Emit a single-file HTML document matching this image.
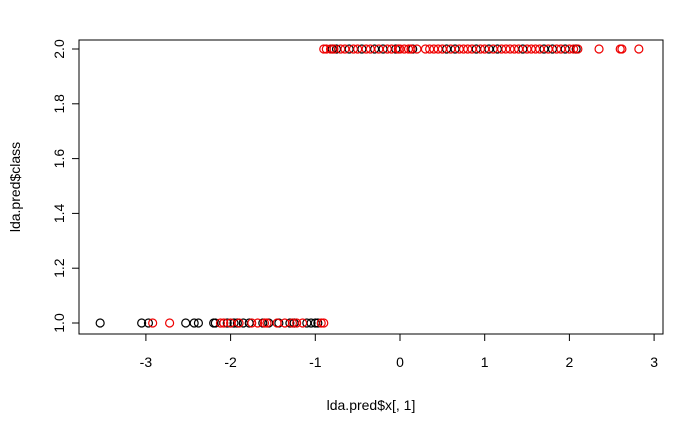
<!DOCTYPE html>
<html><head><meta charset="utf-8"><style>body{margin:0;background:#fff}svg{display:block}text{font-family:"Liberation Sans",sans-serif;font-size:14px}</style></head>
<body>
<svg id="chart" width="700" height="432"></svg>
<script>
const blackLow=[-3.54,-3.05,-2.97,-2.53,-2.43,-2.38,-2.2,-2.18,-2.04,-1.96,-1.92,-1.85,-1.78,-1.62,-1.55,-1.43,-1.3,-1.25,-1.1,-1.05,-1.0,-0.97];
const redLow=[-2.92,-2.72,-2.12,-2.08,-2.0,-1.9,-1.75,-1.68,-1.6,-1.57,-1.45,-1.36,-1.27,-1.22,-1.15,-0.93,-0.9];
const blackHigh=[-0.8,-0.75,-0.6,-0.45,-0.3,-0.2,-0.05,0.15,0.55,0.65,0.9,1.05,1.15,1.45,1.7,1.8,1.95,2.08];
const redHigh=[-0.9,-0.87,-0.82,-0.78,-0.7,-0.65,-0.55,-0.5,-0.4,-0.35,-0.25,-0.15,-0.1,-0.02,0.0,0.05,0.1,0.13,0.2,0.3,0.35,0.4,0.45,0.5,0.6,0.7,0.75,0.8,0.85,0.95,1.0,1.1,1.2,1.25,1.3,1.35,1.4,1.5,1.55,1.6,1.65,1.75,1.85,1.9,2.0,2.05,2.1,2.35,2.6,2.62,2.82];
const xTicks=[-3,-2,-1,0,1,2,3];
const yTicks=[1.0,1.2,1.4,1.6,1.8,2.0];
const NS="http://www.w3.org/2000/svg",svg=document.getElementById('chart');
const X=v=>400+v*84.7, Y=v=>323-(v-1)*274;
function mk(t,a,p){const e=document.createElementNS(NS,t);for(const k in a)e.setAttribute(k,a[k]);(p||svg).appendChild(e);return e;}
const box=mk('rect',{x:79,y:40,width:584,height:294,fill:'none',stroke:'#000'});


mk('line',{x1:X(-3),x2:X(3),y1:334,y2:334,stroke:'#000'});
xTicks.forEach(t=>{mk('line',{x1:X(t),x2:X(t),y1:334,y2:341,stroke:'#000'});
const tx=mk('text',{x:X(t),y:367,'text-anchor':'middle'});tx.textContent=t;

});
mk('line',{x1:79,x2:79,y1:Y(1),y2:Y(2),stroke:'#000'});
yTicks.forEach(t=>{mk('line',{x1:72,x2:79,y1:Y(t),y2:Y(t),stroke:'#000'});
const tx=mk('text',{x:64,y:Y(t),'text-anchor':'middle',transform:`rotate(-90 64 ${Y(t)})`});tx.textContent=t.toFixed(1);

});
const xt=mk('text',{x:371,y:410,'text-anchor':'middle'});xt.textContent='lda.pred$x[, 1]';


const yt=mk('text',{x:20,y:187,'text-anchor':'middle',transform:'rotate(-90 20 187)'});yt.textContent='lda.pred$class';


function pts(arr,yv,col){arr.forEach(v=>{const c=mk('circle',{cx:X(v),cy:Y(yv),r:4,fill:'none',stroke:col,'stroke-width':1.2});

});}
pts(blackLow,1,'#000');pts(redLow,1,'#e00');pts(blackHigh,2,'#000');pts(redHigh,2,'#e00');
</script>
</body></html>
